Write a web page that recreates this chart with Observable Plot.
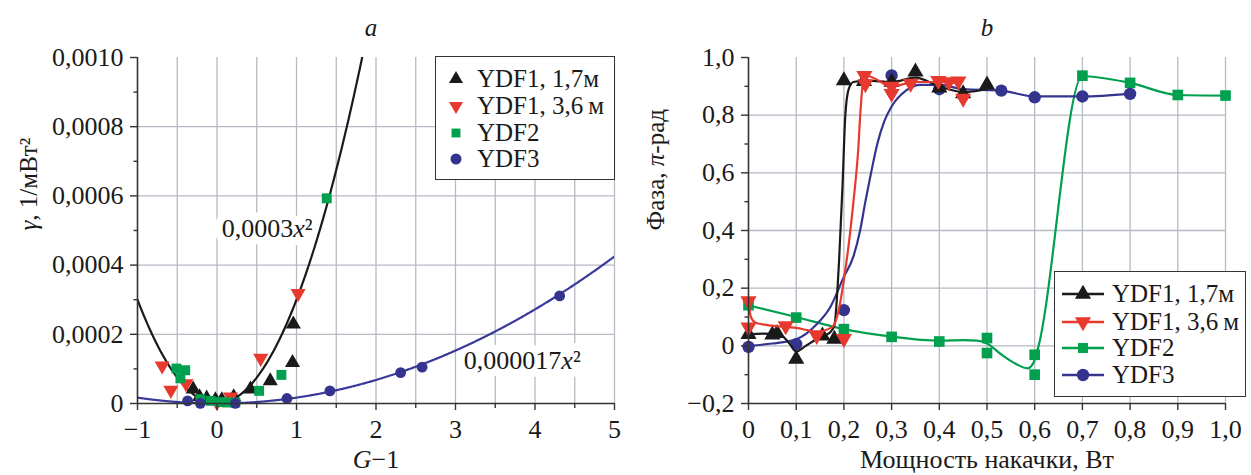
<!DOCTYPE html>
<html>
<head>
<meta charset="utf-8">
<script src="https://cdn.jsdelivr.net/npm/d3@7"></script>
<script src="https://cdn.jsdelivr.net/npm/@observablehq/plot@0.6"></script>
<style>
  html, body { margin: 0; padding: 0; background: white; }
  #wrap { position: relative; width: 1251px; height: 475px; display: flex; font-family: "Liberation Serif", "DejaVu Serif", "Noto Serif", "Times New Roman", serif; color: #1a1a1a; }
  #wrap svg { display: block; overflow: visible; }
  #wrap svg, #wrap svg text { font-family: "Liberation Serif", "DejaVu Serif", "Noto Serif", "Times New Roman", serif !important; }
  .legend { position: absolute; background: white; border: 1.5px solid #333; box-sizing: border-box; }
  .legend .row { position: absolute; left: 0; height: 26px; display: flex; align-items: center; font-size: 25px; white-space: nowrap; }
  .legend svg { display: block; }
</style>
</head>
<body>
<div id="wrap"></div>
<script>
// ---------- Panel a data ----------
const ydf1aG = [-0.30, -0.22, -0.13, -0.02, 0.06, 0.21, 0.42, 0.67, 0.95, 0.96];
const ydf1aGamma = [0.0000413, 0.0000192, 0.000015, 0.00001, 0.00001, 0.0000192, 0.0000413, 0.0000654, 0.000118, 0.000229];
const ydf1bG = [-0.69, -0.58, -0.39, 0.0, 0.17, 0.55, 1.02];
const ydf1bGamma = [0.000109, 0.0000385, 0.0000577, 0.000003, 0.0000192, 0.000131, 0.000318];
const ydf2G = [-0.51, -0.40, -0.46, -0.21, -0.08, 0.04, 0.13, 0.23, 0.53, 0.81, 1.38];
const ydf2Gamma = [0.000101, 0.0000962, 0.000073, 0.0000125, 0.0000077, 0.000004, 0.000003, 0.000003, 0.0000365, 0.0000827, 0.000593];
const ydf3G = [-0.37, -0.21, 0.23, 0.88, 1.42, 2.31, 2.58, 4.31];
const ydf3Gamma = [0.0000077, 0.0000005, 0.0000005, 0.0000144, 0.0000365, 0.0000894, 0.000105, 0.000311];
// fit coefficients written on the chart
const fitCoefs = [0.0003, 0.000017];
const fitLabels = ["0,0003x²", "0,000017x²"];
const fitLabelX = [0.63, 3.84];
const fitLabelY = [0.000506, 0.000124];
const leftXTicks = [-1, 0, 1, 2, 3, 4, 5];
const leftXGrid = [-0.5, 0, 0.5, 1, 1.5, 2, 2.5, 3, 3.5, 4, 4.5, 5];
const leftYTicks = [0, 0.0002, 0.0004, 0.0006, 0.0008, 0.0010];
const leftYMinor = [0.0001, 0.0003, 0.0005, 0.0007, 0.0009];
const leftYGrid = [0.0002, 0.0004, 0.0006, 0.0008];

// ---------- Panel b data ----------
const bYdf1aP = [0, 0.05, 0.06, 0.1, 0.155, 0.18, 0.2, 0.242, 0.3, 0.35, 0.4, 0.45, 0.5];
const bYdf1aPh = [0.04, 0.038, 0.043, -0.046, 0.035, 0.023, 0.92, 0.917, 0.915, 0.95, 0.895, 0.875, 0.905];
const bYdf1bP = [0, 0, 0.078, 0.143, 0.2, 0.243, 0.245, 0.3, 0.3, 0.34, 0.398, 0.42, 0.44, 0.45];
const bYdf1bPh = [0.156, 0.065, 0.069, 0.035, 0.025, 0.937, 0.908, 0.9, 0.875, 0.91, 0.92, 0.915, 0.918, 0.858];
const bYdf2P = [0, 0.1, 0.2, 0.3, 0.4, 0.5, 0.5, 0.6, 0.6, 0.7, 0.8, 0.9, 1.0];
const bYdf2Ph = [0.141, 0.098, 0.058, 0.031, 0.015, 0.027, -0.025, -0.031, -0.1, 0.937, 0.912, 0.87, 0.868];
const bYdf3P = [0, 0.1, 0.2, 0.3, 0.4, 0.53, 0.6, 0.7, 0.8];
const bYdf3Ph = [-0.004, 0.006, 0.124, 0.938, 0.89, 0.885, 0.862, 0.865, 0.874];
// smoothed curves as drawn in the figure
const cYdf1aP = [0, 0.03, 0.065, 0.085, 0.1, 0.12, 0.15, 0.17, 0.18, 0.19, 0.197, 0.203, 0.21, 0.22, 0.25, 0.3, 0.35, 0.4, 0.45, 0.5];
const cYdf1aPh = [0.04, 0.042, 0.04, 0.01, -0.02, 0.0, 0.03, 0.045, 0.07, 0.3, 0.55, 0.8, 0.89, 0.915, 0.92, 0.915, 0.93, 0.9, 0.88, 0.89];
const cYdf1bP = [0, 0.005, 0.015, 0.04, 0.1, 0.143, 0.175, 0.19, 0.2, 0.21, 0.22, 0.23, 0.235, 0.24, 0.25, 0.3, 0.35, 0.4, 0.44];
const cYdf1bPh = [0.157, 0.1, 0.08, 0.072, 0.062, 0.05, 0.064, 0.13, 0.23, 0.35, 0.5, 0.68, 0.82, 0.91, 0.935, 0.9, 0.915, 0.915, 0.91];
const cYdf2P = [0, 0.1, 0.2, 0.3, 0.4, 0.45, 0.48, 0.5, 0.53, 0.56, 0.585, 0.597, 0.605, 0.7, 0.8, 0.9, 1.0];
const cYdf2Ph = [0.14, 0.1, 0.058, 0.032, 0.018, 0.02, 0.018, 0.008, -0.03, -0.062, -0.078, -0.06, -0.02, 0.935, 0.912, 0.87, 0.868];
const cYdf3P = [0, 0.05, 0.1, 0.143, 0.171, 0.2, 0.22, 0.234, 0.245, 0.257, 0.27, 0.285, 0.3, 0.33, 0.36, 0.4, 0.45, 0.53, 0.6, 0.7, 0.8];
const cYdf3Ph = [0, 0.008, 0.023, 0.075, 0.133, 0.24, 0.31, 0.4, 0.5, 0.6, 0.7, 0.78, 0.83, 0.885, 0.905, 0.905, 0.89, 0.885, 0.865, 0.865, 0.875];
const rightXTicks = [0, 0.1, 0.2, 0.3, 0.4, 0.5, 0.6, 0.7, 0.8, 0.9, 1.0];
const rightXGrid = [0.1, 0.2, 0.3, 0.4, 0.5, 0.6, 0.7, 0.8, 0.9, 1.0];
const rightYTicks = [-0.2, 0, 0.2, 0.4, 0.6, 0.8, 1.0];
const rightYMinor = [-0.1, 0.1, 0.3, 0.5, 0.7, 0.9];
const rightYGrid = [0, 0.2, 0.4, 0.6, 0.8];

const seriesNames = ["YDF1, 1,7м", "YDF1, 3,6\u2009м", "YDF2", "YDF3"];
const seriesColors = ["#1a1a1a", "#e8392e", "#00a04e", "#34348f"];

// ---------- helpers ----------
const sqrt3 = Math.sqrt(3);
const triangleDown = {
  draw(context, size) {
    const y = -Math.sqrt(size / (sqrt3 * 3));
    context.moveTo(0, -y * 2);
    context.lineTo(-sqrt3 * y, y);
    context.lineTo(sqrt3 * y, y);
    context.closePath();
  }
};
const seriesSymbols = ["triangle", triangleDown, "square", "circle"];
const zip = (xs, ys) => xs.map((x, i) => ({x, y: ys[i]}));
const gridColor = "#b5bac4";
const axisColor = "#333";
const FONT = '"Liberation Serif", "DejaVu Serif", "Noto Serif", serif';

const fmtComma = (d, n) => (d < 0 ? "\u2212" : "") + Math.abs(d).toFixed(n).replace(".", ",");

// ---------- Panel a ----------
const aSets = [zip(ydf1aG, ydf1aGamma), zip(ydf1bG, ydf1bGamma), zip(ydf2G, ydf2Gamma), zip(ydf3G, ydf3Gamma)];
const aR = [5.6, 5.6, 5.6, 5.4];
const fitXs = d3.range(-1, 5.0001, 0.01);
const fit0 = fitXs.map(x => ({x, y: fitCoefs[0] * x * x}));
const fit1 = fitXs.map(x => ({x, y: fitCoefs[1] * x * x}));
const fitLabelData = fitLabels.map((t, i) => ({t, x: fitLabelX[i], y: fitLabelY[i]}));

const plotA = Plot.plot({
  width: 625, height: 475,
  marginLeft: 137, marginRight: 11, marginTop: 57, marginBottom: 72,
  x: {domain: [-1, 5], label: null},
  y: {domain: [0, 0.001], label: null},
  style: {fontFamily: FONT, fontSize: "26px", color: "#1a1a1a", background: "white", overflow: "visible"},
  marks: [
    Plot.gridX(leftXGrid, {stroke: gridColor, strokeOpacity: 1, strokeWidth: 1.3}),
    Plot.gridY(leftYGrid, {stroke: gridColor, strokeOpacity: 1, strokeWidth: 1.3}),
    Plot.text(fitLabelData, {x: "x", y: "y", text: "t", fontSize: 26, fill: "white", stroke: "white", strokeWidth: 16, strokeLinejoin: "round"}),
    Plot.text(fitLabelData, {x: "x", y: "y", text: "t", fontSize: 26, fill: "#1a1a1a"}),
    Plot.line(fit0, {x: "x", y: "y", stroke: seriesColors[0], strokeWidth: 2.2, clip: true}),
    Plot.line(fit1, {x: "x", y: "y", stroke: "#3a3a9a", strokeWidth: 2.2, clip: true}),
    ...aSets.map((s, i) => Plot.dot(s, {x: "x", y: "y", symbol: () => seriesSymbols[i], fill: seriesColors[i], stroke: "none", r: aR[i]})),
    Plot.ruleX([-1], {stroke: axisColor, strokeWidth: 1.6}),
    Plot.ruleY([0], {stroke: axisColor, strokeWidth: 1.6}),
    Plot.axisX(leftXTicks, {tickSize: 7, tickPadding: 9, stroke: axisColor, strokeWidth: 1.4, fill: "#1a1a1a", fontSize: 26, label: null,
      tickFormat: d => (d < 0 ? "\u2212" : "") + Math.abs(d)}),
    Plot.axisX(leftXGrid.filter(d => !leftXTicks.includes(d)), {tickSize: 5, stroke: axisColor, strokeWidth: 1.4, tickFormat: () => "", label: null}),
    Plot.axisY(leftYTicks, {tickSize: 7, tickPadding: 7, stroke: axisColor, strokeWidth: 1.4, fill: "#1a1a1a", fontSize: 26, label: null,
      tickFormat: d => d === 0 ? "0" : fmtComma(d, 4)}),
    Plot.axisY(leftYMinor, {tickSize: 3.5, stroke: axisColor, strokeWidth: 1.4, tickFormat: () => "", label: null}),
    Plot.text(["a"], {frameAnchor: "top", dy: -39, dx: -5, fontSize: 25, fontStyle: "italic", fill: "#1a1a1a"}),
    Plot.text(["G\u22121"], {frameAnchor: "bottom", dy: 64, fontSize: 26, fill: "#1a1a1a"}),
    Plot.text(["γ, 1/мВт²"], {frameAnchor: "left", dx: -109, rotate: -90, fontSize: 25, fill: "#1a1a1a"})
  ]
});

// ---------- Panel b ----------
const bSets = [zip(bYdf1aP, bYdf1aPh), zip(bYdf1bP, bYdf1bPh), zip(bYdf2P, bYdf2Ph), zip(bYdf3P, bYdf3Ph)];
const bCurves = [zip(cYdf1aP, cYdf1aPh), zip(cYdf1bP, cYdf1bPh), zip(cYdf2P, cYdf2Ph), zip(cYdf3P, cYdf3Ph)];
const bR = [6, 6, 6, 6.2];

const plotB = Plot.plot({
  width: 626, height: 475,
  marginLeft: 123, marginRight: 26, marginTop: 57, marginBottom: 72,
  x: {domain: [0, 1], label: null},
  y: {domain: [-0.2, 1.0], label: null},
  style: {fontFamily: FONT, fontSize: "26px", color: "#1a1a1a", background: "white", overflow: "visible"},
  marks: [
    Plot.gridX(rightXGrid, {stroke: gridColor, strokeOpacity: 1, strokeWidth: 1.3}),
    Plot.gridY(rightYGrid, {stroke: gridColor, strokeOpacity: 1, strokeWidth: 1.3}),
    ...[2, 3, 0, 1].flatMap(i => [
      Plot.line(bCurves[i], {x: "x", y: "y", stroke: seriesColors[i], strokeWidth: 2.2, curve: "monotone-x"}),
      Plot.dot(bSets[i], {x: "x", y: "y", symbol: () => seriesSymbols[i], fill: seriesColors[i], stroke: "none", r: bR[i]})
    ]),
    Plot.ruleX([0], {stroke: axisColor, strokeWidth: 1.6}),
    Plot.ruleY([-0.2], {stroke: axisColor, strokeWidth: 1.6}),
    Plot.axisX(rightXTicks, {tickSize: 7, tickPadding: 9, stroke: axisColor, strokeWidth: 1.4, fill: "#1a1a1a", fontSize: 26, label: null,
      tickFormat: d => d === 0 ? "0" : fmtComma(d, 1)}),
    Plot.axisY(rightYTicks, {tickSize: 7, tickPadding: 7, stroke: axisColor, strokeWidth: 1.4, fill: "#1a1a1a", fontSize: 26, label: null,
      tickFormat: d => d === 0 ? "0" : fmtComma(d, 1)}),
    Plot.axisY(rightYMinor, {tickSize: 3.5, stroke: axisColor, strokeWidth: 1.4, tickFormat: () => "", label: null}),
    Plot.text(["b"], {frameAnchor: "top", dy: -39, fontSize: 25, fontStyle: "italic", fill: "#1a1a1a"}),
    Plot.text(["Мощность накачки, Вт"], {frameAnchor: "bottom", dy: 64, fontSize: 26, fill: "#1a1a1a"}),
    Plot.text(["Фаза, π-рад"], {frameAnchor: "left", dx: -93, rotate: -90, fontSize: 25, fill: "#1a1a1a"})
  ]
});

// rich text: italics for variables
function rich(svg, content, parts) {
  d3.select(svg).selectAll("text").filter(function() { return this.textContent === content; }).each(function() {
    const t = d3.select(this);
    t.text(null);
    for (const [s, it] of parts) {
      const ts = t.append("tspan").text(s);
      if (it) ts.attr("font-style", "italic");
    }
  });
}
rich(plotA, "G\u22121", [["G", true], ["\u22121", false]]);
rich(plotA, "γ, 1/мВт²", [["γ", true], [", 1/мВт²", false]]);
rich(plotA, "0,0003x²", [["0,0003", false], ["x", true], ["²", false]]);
rich(plotA, "0,000017x²", [["0,000017", false], ["x", true], ["²", false]]);
rich(plotB, "Фаза, π-рад", [["Фаза, ", false], ["π", true], ["-рад", false]]);

const wrap = document.getElementById("wrap");
wrap.appendChild(plotA);
wrap.appendChild(plotB);

// ---------- legends ----------
function symbolPath(sym, r) {
  const type = typeof sym === "string" ? {triangle: d3.symbolTriangle, square: d3.symbolSquare, circle: d3.symbolCircle}[sym] : sym;
  return d3.symbol(type, Math.PI * r * r)();
}
function makeLegend(left, top, width, height, rows, withLine, markerX, textX, rs) {
  const box = document.createElement("div");
  box.className = "legend";
  Object.assign(box.style, {left: left + "px", top: top + "px", width: width + "px", height: height + "px"});
  rows.forEach((cy, i) => {
    const row = document.createElement("div");
    row.className = "row";
    row.style.top = (cy - 13) + "px";
    const s = d3.create("svg").attr("width", textX).attr("height", 26);
    if (withLine) s.append("line").attr("x1", markerX - 21).attr("x2", markerX + 21).attr("y1", 13).attr("y2", 13)
      .attr("stroke", seriesColors[i]).attr("stroke-width", 2.4);
    s.append("path").attr("transform", `translate(${markerX},13)`).attr("d", symbolPath(seriesSymbols[i], rs[i])).attr("fill", seriesColors[i]);
    row.appendChild(s.node());
    const span = document.createElement("span");
    span.textContent = seriesNames[i];
    row.appendChild(span);
    box.appendChild(row);
  });
  wrap.appendChild(box);
}
makeLegend(435, 56, 180, 124, [22, 48.7, 75.5, 102], false, 20, 41, [5.2, 5.2, 5.0, 5.5]);
makeLegend(1054, 271, 192, 126, [22, 50, 76, 102.5], true, 28, 57, [6, 6, 5.6, 6.2]);
</script>
</body>
</html>
